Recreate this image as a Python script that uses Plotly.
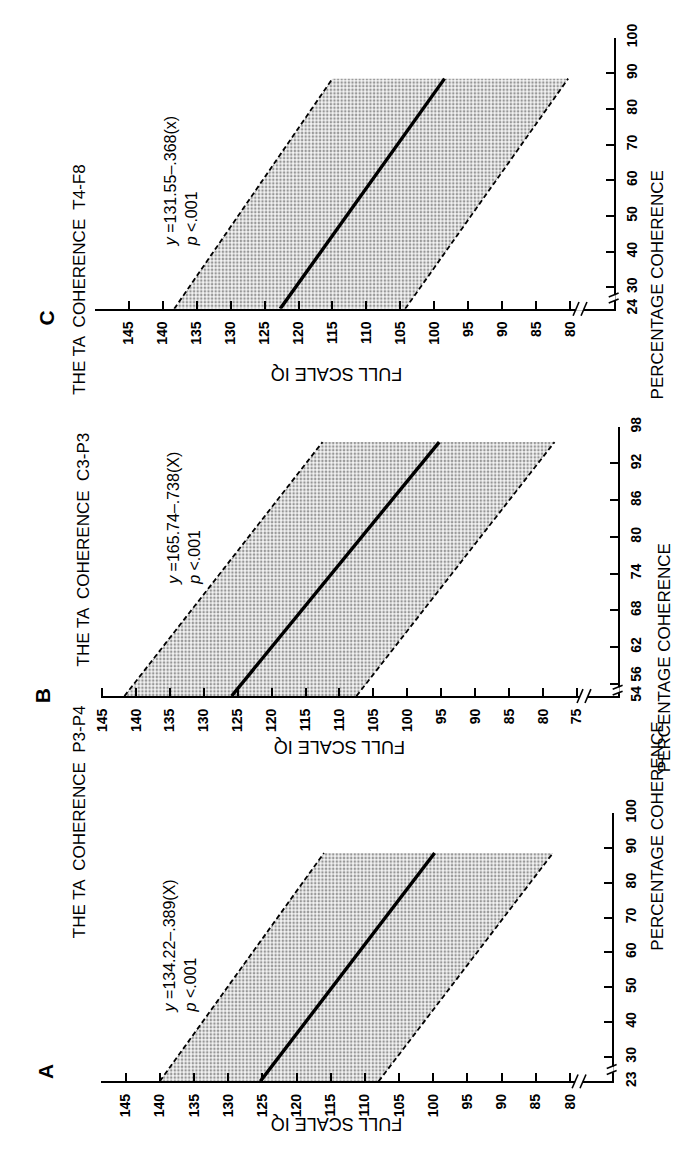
import plotly.graph_objects as go

# ---------------- data ----------------
A_coherence = [23, 88.5]
A_fit = [125.3, 99.8]
A_upper = [140.0, 116.0]
A_lower = [108.0, 82.5]

B_coherence = [54, 95.5]
B_fit = [125.9, 95.3]
B_upper = [141.7, 112.5]
B_lower = [107.5, 78.3]

C_coherence = [24, 88.5]
C_fit = [122.7, 98.5]
C_upper = [138.3, 115.0]
C_lower = [104.3, 80.3]

A_iq_ticks = [145, 140, 135, 130, 125, 120, 115, 110, 105, 100, 95, 90, 85, 80]
B_iq_ticks = [145, 140, 135, 130, 125, 120, 115, 110, 105, 100, 95, 90, 85, 80, 75]
C_iq_ticks = [145, 140, 135, 130, 125, 120, 115, 110, 105, 100, 95, 90, 85, 80]

A_coh_ticks = [23, 30, 40, 50, 60, 70, 80, 90, 100]
B_coh_ticks = [54, 56, 62, 68, 74, 80, 86, 92, 98]
C_coh_ticks = [24, 30, 40, 50, 60, 70, 80, 90, 100]

A_title = "THE TA  COHERENCE  P3-P4"
B_title = "THE TA  COHERENCE  C3-P3"
C_title = "THE TA  COHERENCE  T4-F8"
A_eq = "<i>y</i> =134.22–.389(X)<br><i>p</i> <.001"
B_eq = "<i>y</i> =165.74–.738(X)<br><i>p</i> <.001"
C_eq = "<i>y</i> =131.55–.368(x)<br><i>p</i> <.001"
y_title = "FULL SCALE IQ"
x_title = "PERCENTAGE COHERENCE"

# ---------------- layout geometry (pixels) ----------------
W, H = 679, 1163


def fx(p):
    return p / W


def fy(p):
    return 1 - p / H


NB = "\u00a0"


def coh_labels(ticks, key):
    labels = [str(v) for v in ticks]
    if key == "B":
        # the broken axis puts 56 close to the origin; nudge its label clear of "54"
        labels[1] = NB * 4 + labels[1]
    return labels


panels = [
    dict(key="A", ax="", coh=A_coherence, fit=A_fit, up=A_upper, lo=A_lower,
         iqt=A_iq_ticks, coht=A_coh_ticks, title=A_title, eq=A_eq,
         x0=95, x1=611, ybot=1086, ytop=813, iqr=[148.6, 73.9],
         cohr=[A_coh_ticks[0], A_coh_ticks[-1]],
         xbreak=578, ybreak=12, letter=(26, 1086), title_pos=(61, 942),
         ptitle=(668, 955), iqtitle=(333, 1141), eqpos=(154, 1018)),
    dict(key="B", ax="2", coh=B_coherence, fit=B_fit, up=B_upper, lo=B_lower,
         iqt=B_iq_ticks, coht=B_coh_ticks, title=B_title, eq=B_eq,
         x0=95, x1=617, ybot=694, ytop=420, iqr=[145.15, 69.0],
         cohr=[B_coh_ticks[0], B_coh_ticks[-1]],
         xbreak=583, ybreak=6, letter=(22, 694), title_pos=(66, 545),
         ptitle=(676, 655), iqtitle=(336, 746), eqpos=(158, 583)),
    dict(key="C", ax="3", coh=C_coherence, fit=C_fit, up=C_upper, lo=C_lower,
         iqt=C_iq_ticks, coht=C_coh_ticks, title=C_title, eq=C_eq,
         x0=89, x1=613, ybot=300, ytop=24, iqr=[149.95, 73.6],
         cohr=[C_coh_ticks[0], C_coh_ticks[-1]],
         xbreak=579, ybreak=11, letter=(26, 300), title_pos=(62, 150),
         ptitle=(669, 157), iqtitle=(333, 354), eqpos=(155, 238)),
]

FONT = "Liberation Sans, Arial, sans-serif"
fig = go.Figure()
annotations = []
shapes = []

for p in panels:
    xa = "x" + p["ax"]
    ya = "y" + p["ax"]
    # lower bound (no fill)
    fig.add_trace(go.Scatter(x=p["lo"], y=p["coh"], xaxis=xa, yaxis=ya, mode="lines",
                             line=dict(color="black", width=1.8, dash="5px,3px"),
                             showlegend=False, hoverinfo="skip"))
    # upper bound, filled to the lower bound with a stipple pattern
    fig.add_trace(go.Scatter(x=p["up"], y=p["coh"], xaxis=xa, yaxis=ya, mode="lines",
                             line=dict(color="black", width=1.8, dash="5px,3px"),
                             fill="tonextx", fillcolor="rgba(0,0,0,0)",
                             fillpattern=dict(shape=".", fgcolor="#3a3a3a", bgcolor="#f4f4f4",
                                              size=3.6, solidity=0.4),
                             showlegend=False, hoverinfo="skip"))
    # regression line
    fig.add_trace(go.Scatter(x=p["fit"], y=p["coh"], xaxis=xa, yaxis=ya, mode="lines",
                             line=dict(color="black", width=3.4),
                             showlegend=False, hoverinfo="skip"))

    axis_common = dict(showline=True, linecolor="black", linewidth=2,
                       ticks="inside", ticklen=8, tickwidth=2, tickcolor="black",
                       showgrid=False, zeroline=False, tickangle=-90,
                       tickfont=dict(family=FONT, size=14, color="black", weight="bold"))
    fig.update_layout(**{
        "xaxis" + p["ax"]: dict(domain=[fx(p["x0"]), fx(p["x1"])], range=p["iqr"],
                                anchor=ya, side="bottom", tickmode="array",
                                tickvals=p["iqt"], ticktext=[str(v) for v in p["iqt"]],
                                ticklabelstandoff=5, **axis_common),
        "yaxis" + p["ax"]: dict(domain=[fy(p["ybot"]), fy(p["ytop"])], range=p["cohr"],
                                anchor=xa, side="right", tickmode="array",
                                tickvals=p["coht"], ticktext=coh_labels(p["coht"], p["key"]),
                                ticklabelstandoff=5, **axis_common),
    })

    # texts
    annotations.append(dict(text=p["key"], x=fx(p["letter"][0]), y=fy(p["letter"][1]),
                            xref="paper", yref="paper", showarrow=False, textangle=-90,
                            font=dict(family=FONT, size=21, color="black", weight="bold")))
    annotations.append(dict(text=p["title"], x=fx(p["title_pos"][0]), y=fy(p["title_pos"][1]),
                            xref="paper", yref="paper", showarrow=False, textangle=-90,
                            font=dict(family=FONT, size=17, color="black")))
    annotations.append(dict(text=x_title, x=fx(p["ptitle"][0]), y=fy(p["ptitle"][1]),
                            xref="paper", yref="paper", showarrow=False, textangle=-90,
                            font=dict(family=FONT, size=17, color="black")))
    annotations.append(dict(text=y_title, x=fx(p["iqtitle"][0]), y=fy(p["iqtitle"][1]),
                            xref="paper", yref="paper", showarrow=False, textangle=180,
                            font=dict(family=FONT, size=18, color="black")))
    annotations.append(dict(text=p["eq"], x=fx(p["eqpos"][0]), y=fy(p["eqpos"][1]),
                            xref="paper", yref="paper", showarrow=False, textangle=-90,
                            xanchor="left", yanchor="bottom", align="left",
                            font=dict(family=FONT, size=16, color="black")))

    # axis break on the IQ axis  (//)
    xb, yb = p["xbreak"], p["ybot"]
    shapes.append(dict(type="rect", xref="paper", yref="paper",
                       x0=fx(xb - 4), x1=fx(xb + 4), y0=fy(yb + 2), y1=fy(yb - 2),
                       line=dict(width=0), fillcolor="white", layer="above"))
    for dx in (-4, 4):
        shapes.append(dict(type="line", xref="paper", yref="paper",
                           x0=fx(xb + dx - 3), y0=fy(yb + 7), x1=fx(xb + dx + 3), y1=fy(yb - 7),
                           line=dict(color="black", width=1.6), layer="above"))
    # axis break on the coherence axis
    xc, yc = p["x1"], p["ybot"] - p["ybreak"]
    shapes.append(dict(type="rect", xref="paper", yref="paper",
                       x0=fx(xc - 2), x1=fx(xc + 2), y0=fy(yc + 3), y1=fy(yc - 3),
                       line=dict(width=0), fillcolor="white", layer="above"))
    for dy in (-3, 3):
        shapes.append(dict(type="line", xref="paper", yref="paper",
                           x0=fx(xc - 5), y0=fy(yc + dy + 2), x1=fx(xc + 5), y1=fy(yc + dy - 2),
                           line=dict(color="black", width=1.6), layer="above"))

fig.update_layout(width=W, height=H, autosize=False,
                  margin=dict(l=0, r=0, t=0, b=0),
                  paper_bgcolor="white", plot_bgcolor="rgba(0,0,0,0)",
                  annotations=annotations, shapes=shapes, showlegend=False)

fig.write_html("out.html")
